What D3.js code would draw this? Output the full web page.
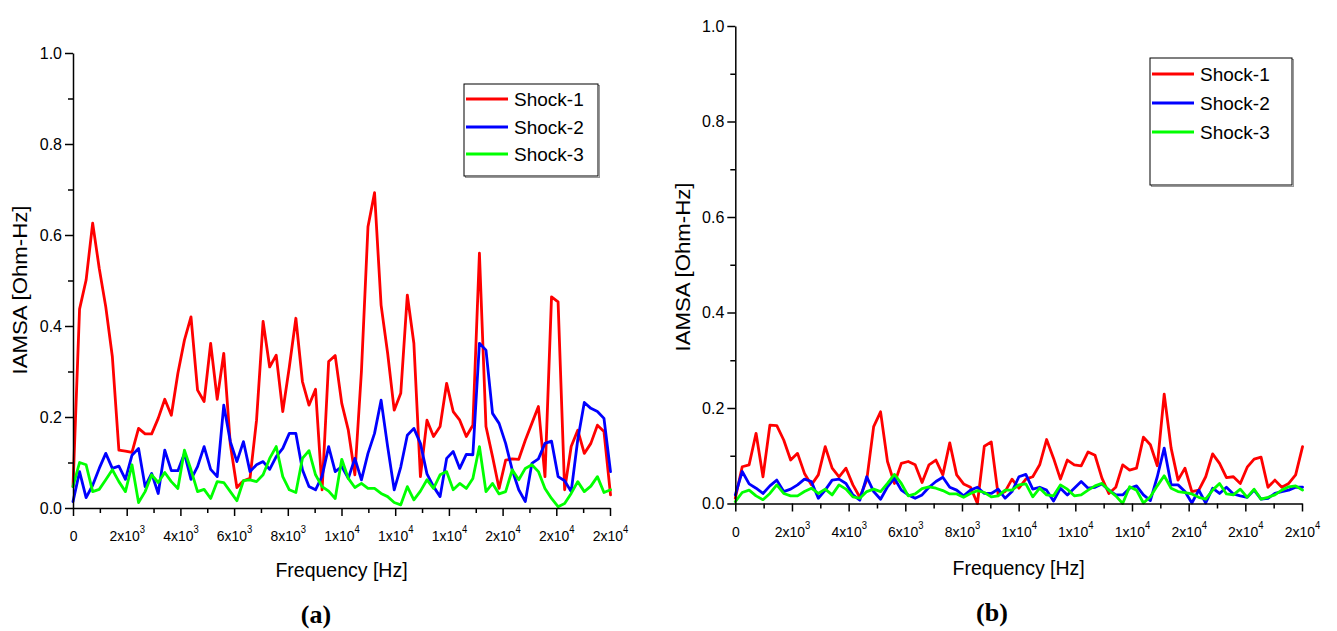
<!DOCTYPE html>
<html><head><meta charset="utf-8">
<script src="https://cdn.jsdelivr.net/npm/d3@7"></script>
<style>
body{margin:0;background:#fff;}
svg{display:block;}
text{font-family:Arial,"Liberation Sans",sans-serif;fill:#000;}
</style></head>
<body><svg id="chart" width="1337" height="631"></svg>
<script>
// ---- data ----
const freqStep = 244.14;
const seriesNames = ["Shock-1", "Shock-2", "Shock-3"];
const seriesColors = ["#ff0000", "#0000ff", "#00ff00"];

const shock1A = [0.047,0.437,0.501,0.626,0.527,0.442,0.333,0.127,0.125,0.122,0.175,0.163,0.163,0.197,0.239,0.204,0.296,0.369,0.42,0.259,0.234,0.362,0.239,0.34,0.14,0.045,0.06,0.065,0.193,0.41,0.31,0.336,0.212,0.31,0.417,0.278,0.226,0.261,0.04,0.322,0.335,0.23,0.171,0.073,0.3,0.618,0.693,0.446,0.34,0.215,0.252,0.468,0.362,0.069,0.193,0.157,0.179,0.274,0.212,0.193,0.157,0.182,0.56,0.179,0.113,0.043,0.105,0.108,0.107,0.149,0.186,0.223,0.069,0.464,0.453,0.04,0.135,0.171,0.12,0.142,0.182,0.168,0.029];
const shock2A = [0.014,0.08,0.023,0.05,0.087,0.12,0.087,0.092,0.063,0.116,0.131,0.047,0.076,0.032,0.127,0.082,0.082,0.12,0.063,0.091,0.135,0.085,0.069,0.226,0.146,0.102,0.146,0.08,0.095,0.102,0.085,0.113,0.131,0.164,0.164,0.084,0.047,0.04,0.07,0.135,0.08,0.091,0.065,0.109,0.062,0.12,0.164,0.237,0.135,0.04,0.09,0.16,0.175,0.142,0.075,0.047,0.025,0.109,0.124,0.087,0.118,0.117,0.362,0.347,0.208,0.186,0.142,0.084,0.04,0.014,0.098,0.108,0.142,0.147,0.069,0.06,0.036,0.15,0.232,0.219,0.212,0.197,0.08];
const shock3A = [0.047,0.1,0.095,0.036,0.041,0.062,0.084,0.058,0.036,0.095,0.012,0.036,0.073,0.056,0.078,0.058,0.043,0.127,0.084,0.036,0.041,0.021,0.058,0.056,0.036,0.016,0.06,0.062,0.058,0.073,0.109,0.135,0.069,0.04,0.034,0.109,0.126,0.073,0.047,0.037,0.021,0.107,0.065,0.045,0.054,0.043,0.043,0.032,0.025,0.012,0.007,0.047,0.018,0.037,0.062,0.043,0.073,0.08,0.04,0.054,0.043,0.065,0.135,0.036,0.054,0.031,0.036,0.084,0.062,0.087,0.095,0.08,0.043,0.021,0.003,0.01,0.032,0.058,0.036,0.048,0.069,0.034,0.04];

const shock1B = [0.011,0.077,0.081,0.147,0.056,0.164,0.163,0.133,0.091,0.105,0.063,0.039,0.06,0.119,0.074,0.056,0.074,0.039,0.013,0.049,0.161,0.192,0.088,0.042,0.084,0.088,0.081,0.044,0.081,0.091,0.06,0.127,0.06,0.041,0.034,0.0,0.12,0.129,0.018,0.025,0.051,0.032,0.051,0.056,0.081,0.134,0.095,0.051,0.091,0.081,0.079,0.108,0.101,0.053,0.021,0.034,0.081,0.07,0.074,0.139,0.123,0.079,0.229,0.116,0.049,0.074,0.025,0.028,0.056,0.104,0.084,0.054,0.056,0.042,0.076,0.093,0.097,0.034,0.049,0.034,0.042,0.06,0.119];
const shock2B = [0.018,0.067,0.041,0.032,0.021,0.037,0.049,0.025,0.03,0.039,0.051,0.046,0.011,0.028,0.049,0.051,0.042,0.018,0.007,0.056,0.025,0.009,0.035,0.053,0.028,0.018,0.011,0.018,0.034,0.046,0.055,0.034,0.028,0.016,0.028,0.034,0.021,0.021,0.03,0.011,0.025,0.056,0.061,0.03,0.034,0.028,0.005,0.032,0.018,0.032,0.046,0.032,0.034,0.041,0.028,0.018,0.018,0.032,0.037,0.018,0.006,0.056,0.116,0.039,0.039,0.025,0.001,0.028,0.001,0.032,0.021,0.034,0.02,0.016,0.013,0.028,0.009,0.011,0.021,0.025,0.028,0.034,0.034];
const shock3B = [0.004,0.023,0.028,0.016,0.008,0.021,0.039,0.021,0.016,0.016,0.025,0.032,0.021,0.03,0.018,0.039,0.03,0.014,0.011,0.025,0.03,0.025,0.042,0.061,0.042,0.016,0.02,0.031,0.035,0.032,0.027,0.02,0.02,0.013,0.021,0.027,0.023,0.014,0.016,0.028,0.028,0.039,0.041,0.014,0.032,0.018,0.016,0.039,0.03,0.016,0.018,0.028,0.037,0.042,0.028,0.016,0.0,0.035,0.028,0.001,0.014,0.037,0.058,0.032,0.025,0.023,0.02,0.013,0.009,0.028,0.042,0.02,0.018,0.03,0.013,0.03,0.009,0.013,0.018,0.028,0.035,0.037,0.028];

const xTickValues = [0,2000,4000,6000,8000,10000,12000,14000,16000,18000,20000];
const xTickMantissa = ["0","2","4","6","8","1","1","1","2","2","2"];
const xTickExponent = [null,"3","3","3","3","4","4","4","4","4","4"];
const yTickValues = [0,0.2,0.4,0.6,0.8,1.0];
const xLabel = "Frequency [Hz]";
const yLabel = "IAMSA [Ohm-Hz]";
const panelTitles = ["(a)", "(b)"];

// ---- layout ----
const svg = d3.select("#chart");
const panels = [
  {x0:73, x1:610, yTop:53, yBot:508, data:[shock1A,shock2A,shock3A], title:panelTitles[0],
   titleX:316, titleY:623, ylabX:27, ylabY:290, xlabY:577,
   leg:{x:464,y:84,w:134,h:92,rows:[99,127,154]}},
  {x0:735.3, x1:1302, yTop:26, yBot:503.5, data:[shock1B,shock2B,shock3B], title:panelTitles[1],
   titleX:992, titleY:621, ylabX:690, ylabY:267, xlabY:575,
   leg:{x:1150,y:58,w:142,h:127,rows:[74,103,132]}}
];

panels.forEach(p => {
  const x = d3.scaleLinear().domain([0,20000]).range([p.x0,p.x1]);
  const y = d3.scaleLinear().domain([0,1]).range([p.yBot,p.yTop]);
  const g = svg.append("g");

  // lines
  const line = d3.line().x((d,i)=>x(i*freqStep)).y(d=>y(d)).curve(d3.curveLinear);
  p.data.forEach((s,k)=>{
    g.append("path").datum(s).attr("d",line).attr("fill","none")
      .attr("stroke",seriesColors[k]).attr("stroke-width",2.8)
      .attr("stroke-linejoin","round").attr("stroke-linecap","round");
  });

  // x axis minor
  g.append("g").attr("transform",`translate(0,${p.yBot})`)
    .call(d3.axisBottom(x).tickValues(d3.range(1000,20000,2000)).tickSize(5).tickSizeOuter(0).tickFormat(""))
    .call(a=>a.select(".domain").remove())
    .selectAll("line").attr("stroke-width",1.5);
  // x axis major
  const gx = g.append("g").attr("transform",`translate(0,${p.yBot})`)
    .call(d3.axisBottom(x).tickValues(xTickValues).tickSize(8).tickSizeOuter(0).tickFormat(""));
  gx.select(".domain").attr("stroke-width",1.5);
  gx.selectAll("line").attr("stroke-width",1.5);
  gx.selectAll(".tick").each(function(d,i){
    const t = d3.select(this).append("text").attr("fill","#000").attr("text-anchor","middle")
      .attr("transform","translate(0,33) scale(0.9,1)")
      .style("font-size","15.5px").style("font-family","Arial, 'Liberation Sans', sans-serif");
    if (xTickExponent[i] === null) {
      t.text(xTickMantissa[i]);
    } else {
      t.append("tspan").text(xTickMantissa[i] + "x10");
      t.append("tspan").attr("dy",-8).style("font-size","10.5px").text(xTickExponent[i]);
    }
  });

  // y axis minor
  g.append("g").attr("transform",`translate(${p.x0},0)`)
    .call(d3.axisLeft(y).tickValues([0.1,0.3,0.5,0.7,0.9]).tickSize(5).tickSizeOuter(0).tickFormat(""))
    .call(a=>a.select(".domain").remove())
    .selectAll("line").attr("stroke-width",1.5);
  // y axis major
  const gy = g.append("g").attr("transform",`translate(${p.x0},0)`)
    .call(d3.axisLeft(y).tickValues(yTickValues).tickSize(8).tickSizeOuter(0).tickPadding(3).tickFormat(d3.format(".1f")));
  gy.select(".domain").attr("stroke-width",1.5);
  gy.selectAll("line").attr("stroke-width",1.5);
  gy.selectAll("text").style("font-size","16px").style("font-family","Arial, 'Liberation Sans', sans-serif");

  // axis titles
  g.append("text").attr("x",(p.x0+p.x1)/2).attr("y",p.xlabY).attr("text-anchor","middle")
    .style("font-size","19.5px").text(xLabel);
  g.append("text").attr("transform",`translate(${p.ylabX},${p.ylabY}) rotate(-90) scale(1.14,1)`)
    .attr("text-anchor","middle").style("font-size","19.5px").text(yLabel);

  // panel title
  g.append("text").attr("x",p.titleX).attr("y",p.titleY).attr("text-anchor","middle")
    .style("font-family","'Times New Roman','Liberation Serif',serif").style("font-weight","bold")
    .style("font-size","26px").text(p.title);

  // legend
  const L = p.leg;
  g.append("rect").attr("x",L.x+1.5).attr("y",L.y+1.5).attr("width",L.w).attr("height",L.h)
    .attr("fill","none").attr("stroke","#999").attr("stroke-width",1);
  g.append("rect").attr("x",L.x).attr("y",L.y).attr("width",L.w).attr("height",L.h)
    .attr("fill","#fff").attr("stroke","#000").attr("stroke-width",1);
  seriesNames.forEach((n,k)=>{
    g.append("line").attr("x1",L.x+2).attr("x2",L.x+44).attr("y1",L.rows[k]).attr("y2",L.rows[k])
      .attr("stroke",seriesColors[k]).attr("stroke-width",3);
    g.append("text").attr("x",L.x+50).attr("y",L.rows[k]+7).style("font-size","19px").text(n);
  });
});
</script></body></html>
